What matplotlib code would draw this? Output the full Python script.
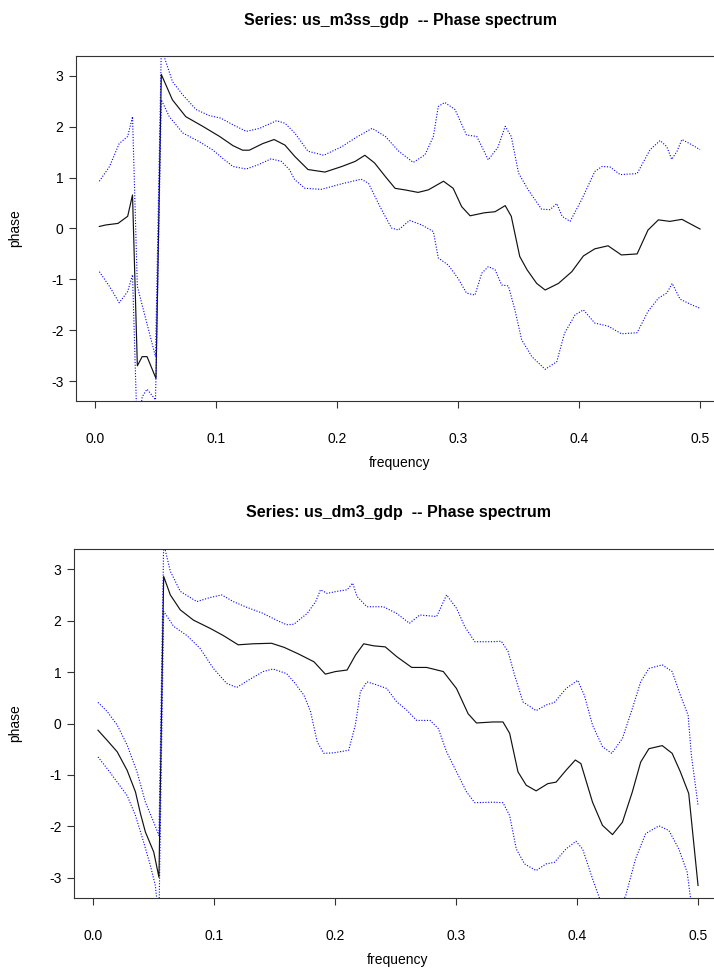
import numpy as np
import matplotlib
matplotlib.use("Agg")
import matplotlib.pyplot as plt

plt.rcParams["font.family"] = ["Liberation Sans", "DejaVu Sans"]

# ---- panel 1: us_m3ss_gdp ----
f_m3 = [0.0036, 0.009, 0.019, 0.027, 0.031, 0.035, 0.039, 0.043, 0.0504, 0.0548,
        0.064, 0.075, 0.089, 0.103, 0.114, 0.122, 0.1275, 0.1386, 0.148, 0.157,
        0.165, 0.176, 0.190, 0.204, 0.215, 0.223, 0.231, 0.240, 0.248, 0.256,
        0.267, 0.2755, 0.288, 0.296, 0.303, 0.310, 0.322, 0.3306, 0.339, 0.344,
        0.351, 0.357, 0.365, 0.372, 0.383, 0.394, 0.4036, 0.413, 0.424, 0.435,
        0.448, 0.457, 0.4656, 0.475, 0.485, 0.500]
phase_m3 = [0.04, 0.07, 0.10, 0.24, 0.66, -2.70, -2.52, -2.52, -2.95, 3.03,
            2.53, 2.20, 2.01, 1.81, 1.63, 1.54, 1.54, 1.67, 1.75, 1.64,
            1.42, 1.16, 1.11, 1.22, 1.32, 1.44, 1.29, 1.02, 0.79, 0.76,
            0.71, 0.76, 0.93, 0.79, 0.43, 0.25, 0.31, 0.33, 0.45, 0.24,
            -0.55, -0.81, -1.08, -1.21, -1.08, -0.85, -0.54, -0.40, -0.34, -0.52,
            -0.50, -0.03, 0.17, 0.14, 0.18, -0.01]

fu_m3 = [0.0036, 0.012, 0.020, 0.027, 0.031, 0.035, 0.050, 0.0548, 0.064, 0.0725,
         0.0835, 0.0945, 0.104, 0.114, 0.125, 0.136, 0.150, 0.157, 0.165, 0.176,
         0.189, 0.204, 0.215, 0.229, 0.240, 0.251, 0.263, 0.2727, 0.2796, 0.2837,
         0.289, 0.2975, 0.307, 0.3155, 0.325, 0.333, 0.339, 0.344, 0.350, 0.358,
         0.369, 0.376, 0.3816, 0.386, 0.3926, 0.402, 0.413, 0.419, 0.4256, 0.434,
         0.448, 0.4587, 0.467, 0.4725, 0.4766, 0.481, 0.485, 0.493, 0.500]
upper_m3 = [0.93, 1.22, 1.67, 1.81, 2.20, -1.14, -2.52, 3.55, 2.89, 2.63,
            2.34, 2.22, 2.17, 2.04, 1.91, 1.97, 2.12, 2.07, 1.88, 1.52,
            1.44, 1.61, 1.78, 1.97, 1.81, 1.52, 1.30, 1.45, 1.81, 2.40,
            2.48, 2.34, 1.84, 1.81, 1.35, 1.60, 2.01, 1.81, 1.09, 0.76,
            0.38, 0.37, 0.49, 0.24, 0.14, 0.56, 1.12, 1.22, 1.21, 1.06,
            1.08, 1.55, 1.73, 1.61, 1.36, 1.52, 1.75, 1.65, 1.55]

fl_m3 = [0.0036, 0.012, 0.020, 0.027, 0.031, 0.035, 0.039, 0.043, 0.050, 0.0548,
         0.0614, 0.0725, 0.086, 0.097, 0.1055, 0.114, 0.125, 0.1345, 0.1455, 0.154,
         0.1606, 0.165, 0.1736, 0.187, 0.204, 0.220, 0.226, 0.2355, 0.245, 0.2507,
         0.260, 0.270, 0.2796, 0.2837, 0.292, 0.300, 0.307, 0.314, 0.3196, 0.325,
         0.3306, 0.336, 0.3416, 0.347, 0.3526, 0.361, 0.372, 0.3816, 0.388, 0.3967,
         0.4036, 0.413, 0.424, 0.435, 0.448, 0.457, 0.4656, 0.4725, 0.477, 0.4835,
         0.493, 0.500]
lower_m3 = [-0.85, -1.14, -1.46, -1.24, -0.91, -4.1, -3.31, -3.16, -3.37, 2.53,
            2.20, 1.88, 1.71, 1.55, 1.38, 1.22, 1.17, 1.25, 1.37, 1.32,
            1.16, 0.96, 0.79, 0.77, 0.88, 0.97, 0.89, 0.43, 0.01, -0.03,
            0.16, 0.07, -0.06, -0.58, -0.72, -0.98, -1.27, -1.31, -0.88, -0.75,
            -0.81, -1.11, -1.13, -1.60, -2.19, -2.52, -2.77, -2.62, -2.06, -1.70,
            -1.60, -1.86, -1.92, -2.07, -2.05, -1.63, -1.37, -1.27, -1.08, -1.39,
            -1.50, -1.57]

# ---- panel 2: us_dm3_gdp ----
f_dm3 = [0.0041, 0.0118, 0.020, 0.0282, 0.0351, 0.0392, 0.0433, 0.0502, 0.0545, 0.0584,
         0.0639, 0.0721, 0.083, 0.0968, 0.1077, 0.120, 0.1324, 0.1475, 0.158, 0.170,
         0.1826, 0.192, 0.2004, 0.210, 0.2169, 0.2237, 0.232, 0.2415, 0.251, 0.2634,
         0.2757, 0.2895, 0.3004, 0.310, 0.3169, 0.3306, 0.3388, 0.3443, 0.3512, 0.358,
         0.3662, 0.3758, 0.3827, 0.3909, 0.3986, 0.4032, 0.4128, 0.421, 0.4293, 0.4375,
         0.4457, 0.4526, 0.4594, 0.4704, 0.4786, 0.4854, 0.4923, 0.500]
phase_dm3 = [-0.13, -0.33, -0.55, -0.91, -1.33, -1.75, -2.11, -2.50, -2.99, 2.86,
             2.50, 2.21, 2.01, 1.85, 1.71, 1.53, 1.55, 1.56, 1.48, 1.35,
             1.20, 0.96, 1.01, 1.04, 1.33, 1.55, 1.51, 1.49, 1.30, 1.09,
             1.09, 1.01, 0.68, 0.19, 0.01, 0.03, 0.03, -0.19, -0.94, -1.20,
             -1.31, -1.17, -1.14, -0.91, -0.71, -0.78, -1.53, -1.98, -2.16, -1.92,
             -1.33, -0.75, -0.49, -0.43, -0.58, -0.94, -1.36, -3.15]

fu_dm3 = [0.0041, 0.0118, 0.020, 0.0282, 0.0364, 0.0433, 0.0502, 0.0545, 0.0584, 0.0639,
          0.0721, 0.0858, 0.0968, 0.1064, 0.116, 0.127, 0.1406, 0.1516, 0.160, 0.166,
          0.177, 0.184, 0.188, 0.1935, 0.2017, 0.210, 0.2146, 0.2182, 0.2264, 0.240,
          0.251, 0.2615, 0.270, 0.284, 0.2922, 0.3004, 0.3073, 0.3155, 0.3306, 0.3374,
          0.343, 0.3484, 0.3553, 0.3662, 0.3744, 0.3813, 0.3909, 0.4005, 0.406, 0.4128,
          0.421, 0.4287, 0.4375, 0.4457, 0.4526, 0.4594, 0.4704, 0.4786, 0.4854, 0.4918,
          0.4945, 0.500]
upper_dm3 = [0.41, 0.23, -0.03, -0.42, -0.94, -1.53, -1.92, -2.18, 3.50, 2.96,
             2.57, 2.37, 2.45, 2.50, 2.37, 2.26, 2.14, 2.01, 1.92, 1.93,
             2.14, 2.37, 2.60, 2.53, 2.57, 2.60, 2.73, 2.47, 2.27, 2.27,
             2.14, 1.95, 2.11, 2.08, 2.50, 2.24, 1.88, 1.59, 1.59, 1.60,
             1.40, 0.94, 0.42, 0.25, 0.36, 0.41, 0.68, 0.84, 0.55, -0.03,
             -0.45, -0.58, -0.29, 0.29, 0.81, 1.07, 1.14, 1.01, 0.55, 0.16,
             -0.62, -1.59]

fl_dm3 = [0.0041, 0.0118, 0.020, 0.0282, 0.0351, 0.0419, 0.0474, 0.0515, 0.0545, 0.0584,
          0.0666, 0.0776, 0.0885, 0.0995, 0.1105, 0.1187, 0.1297, 0.1406, 0.1488, 0.160,
          0.166, 0.1743, 0.1798, 0.1853, 0.1908, 0.199, 0.2113, 0.2168, 0.221, 0.2264,
          0.2346, 0.2428, 0.251, 0.2593, 0.2675, 0.2785, 0.2854, 0.2922, 0.3004, 0.3087,
          0.3155, 0.3306, 0.3388, 0.3443, 0.3498, 0.3566, 0.3662, 0.3744, 0.3813, 0.3909,
          0.3991, 0.4046, 0.4128, 0.4183, 0.4293, 0.4402, 0.4484, 0.4567, 0.4677, 0.4759,
          0.4841, 0.491, 0.4937, 0.500]
lower_dm3 = [-0.65, -0.88, -1.14, -1.40, -1.79, -2.31, -2.76, -3.15, -3.80, 2.18,
             1.89, 1.71, 1.46, 1.07, 0.78, 0.70, 0.86, 1.01, 1.06, 0.97,
             0.81, 0.55, 0.23, -0.36, -0.58, -0.57, -0.52, -0.03, 0.62, 0.81,
             0.75, 0.68, 0.42, 0.26, 0.06, 0.06, -0.10, -0.55, -0.94, -1.33,
             -1.54, -1.53, -1.54, -1.79, -2.44, -2.73, -2.86, -2.73, -2.70, -2.44,
             -2.29, -2.44, -3.02, -3.38, -3.80, -3.35, -2.63, -2.14, -1.99, -2.08,
             -2.44, -2.89, -3.38, -4.70]

xticks = [0.0, 0.1, 0.2, 0.3, 0.4, 0.5]
yticks = [-3, -2, -1, 0, 1, 2, 3]

W, H = 714, 968
fig = plt.figure(figsize=(W / 100, H / 100), dpi=100)


def panel(left, top, bottom, title, f, ph, fu, up, fl, lo):
    right = left + 648
    ax = fig.add_axes([left / W, 1 - bottom / H, (right - left) / W, (bottom - top) / H])
    ax.plot(f, ph, color="#111111", lw=0.85)
    ax.plot(fu, up, color="blue", lw=0.8, ls=(0, (1, 1.5)))
    ax.plot(fl, lo, color="blue", lw=0.8, ls=(0, (1, 1.5)))
    ax.set_xlim(-0.0157, 0.5198)
    ax.set_ylim(-np.pi * 1.08, np.pi * 1.08)
    ax.set_xticks(xticks)
    ax.set_xticklabels(["0.0", "0.1", "0.2", "0.3", "0.4", "0.5"])
    ax.set_yticks(yticks)
    ax.set_yticklabels([str(v) for v in yticks])
    ax.tick_params(direction="out", length=5, width=0.8, color="#333333",
                   labelsize=10)
    ax.tick_params(axis="x", pad=17)
    ax.tick_params(axis="y", pad=4)
    for s in ax.spines.values():
        s.set_color("#333333")
        s.set_linewidth(0.8)
    cx = (left + right) / 2
    fig.text(cx / W, 1 - (top - 36) / H, title, ha="center", va="center",
             fontsize=11.5, fontweight="bold")
    fig.text(cx / W, 1 - (bottom + 62) / H, "frequency", ha="center", va="center",
             fontsize=10)
    fig.text(15 / W, 1 - ((top + bottom) / 2) / H, "phase", ha="center", va="center",
             rotation=90, fontsize=10)
    return ax


panel(76, 56, 401, "Series: us_m3ss_gdp  -- Phase spectrum",
      f_m3, phase_m3, fu_m3, upper_m3, fl_m3, lower_m3)
panel(74, 549, 898, "Series: us_dm3_gdp  -- Phase spectrum",
      f_dm3, phase_dm3, fu_dm3, upper_dm3, fl_dm3, lower_dm3)

fig.savefig("out.png", dpi=100)
